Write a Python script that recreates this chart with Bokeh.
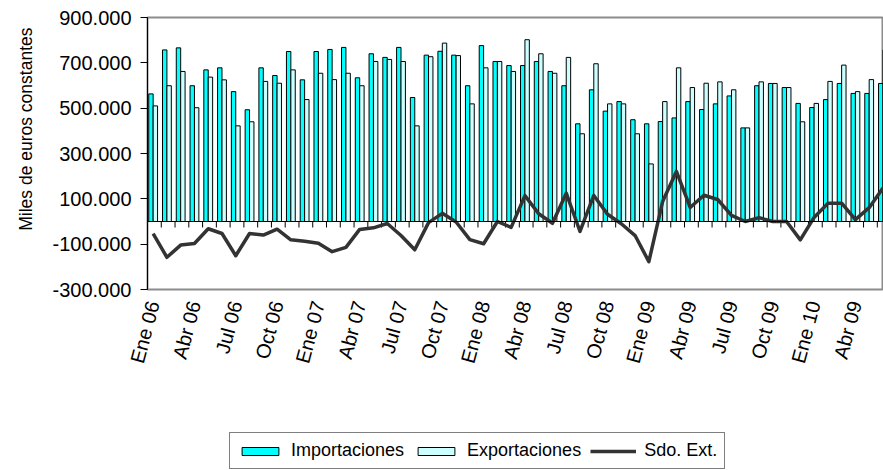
import math
from bokeh.plotting import figure
from bokeh.layouts import column
from bokeh.models import (Range1d, FixedTicker, Legend, LegendItem, Title, Span,
                          ColumnDataSource)
from bokeh.embed import file_html
from bokeh.resources import INLINE

# ---------------- data (miles de euros constantes) ----------------
months = list(range(54))  # Ene 06 ... Jun 10

importaciones = [563000, 757000, 766000, 599000, 669000, 678000, 573000, 493000, 678000,
                 644000, 750000, 625000, 750000, 759000, 768000, 634000, 740000, 724000,
                 768000, 547000, 734000, 751000, 734000, 599000, 776000, 706000, 688000,
                 688000, 706000, 662000, 599000, 431000, 581000, 487000, 529000, 449000,
                 431000, 441000, 457000, 529000, 494000, 519000, 554000, 413000, 599000,
                 609000, 591000, 521000, 503000, 538000, 609000, 565000, 565000, 609000]

exportaciones = [510000, 599000, 662000, 502000, 637000, 625000, 422000, 440000, 618000,
                 610000, 669000, 538000, 654000, 626000, 654000, 599000, 706000, 715000,
                 706000, 422000, 727000, 787000, 732000, 519000, 678000, 706000, 662000,
                 802000, 740000, 654000, 724000, 387000, 696000, 519000, 519000, 387000,
                 254000, 529000, 678000, 591000, 610000, 616000, 581000, 413000, 616000,
                 609000, 591000, 440000, 521000, 618000, 690000, 573000, 626000, 757000]

saldo = [-53000, -158000, -104000, -97000, -32000, -53000, -151000, -53000, -60000,
         -34000, -81000, -87000, -96000, -133000, -114000, -35000, -28000, -9000,
         -62000, -125000, -5000, 36000, -2000, -80000, -98000, 0, -26000,
         114000, 34000, -8000, 125000, -44000, 115000, 32000, -10000, -62000,
         -177000, 88000, 221000, 62000, 116000, 97000, 27000, 0, 17000,
         0, 0, -81000, 18000, 80000, 81000, 8000, 61000, 148000]

label_months = [0, 3, 6, 9, 12, 15, 18, 21, 24, 27, 30, 33, 36, 39, 42, 45, 48, 51]
label_text = ["Ene 06", "Abr 06", "Jul 06", "Oct 06", "Ene 07", "Abr 07", "Jul 07",
              "Oct 07", "Ene 08", "Abr 08", "Jul 08", "Oct 08", "Ene 09", "Abr 09",
              "Jul 09", "Oct 09", "Ene 10", "Abr 09"]

y_ticks = [-300000, -100000, 100000, 300000, 500000, 700000, 900000]
y_tick_labels = ["-300.000", "-100.000", "100.000", "300.000", "500.000", "700.000", "900.000"]

# ---------------- main figure ----------------
FONT = "Liberation Sans"
Y0, Y1 = -300000, 900000
FRAME_H = 272
IMP_COLOR, EXP_COLOR, SDO_COLOR = "#00FFFF", "#CCFFFF", "#333333"

p = figure(width=883, height=431,
           x_range=Range1d(-0.41, 53.04), y_range=Range1d(Y0, Y1),
           output_backend="svg", toolbar_location=None,
           min_border_left=147, min_border_right=0, min_border_top=17, min_border_bottom=142)
p.grid.visible = False
p.background_fill_color = "white"
p.border_fill_color = "white"
p.outline_line_color = "#8c8c8c"
p.outline_line_width = 2

src = ColumnDataSource(dict(
    x_imp=[m - 0.16 for m in months],
    x_exp=[m + 0.16 for m in months],
    x=months, imp=importaciones, exp=exportaciones, sdo=saldo))

p.vbar(x="x_imp", top="imp", bottom=0, width=0.32, source=src,
       fill_color=IMP_COLOR, line_color="black", line_width=1)
p.vbar(x="x_exp", top="exp", bottom=0, width=0.32, source=src,
       fill_color=EXP_COLOR, line_color="black", line_width=1)

# zero line with month tick marks (category axis crossing at 0)
p.add_layout(Span(location=0, dimension="width", line_color="black", line_width=1))
tick_len = 6 * (Y1 - Y0) / FRAME_H
bounds = [m + 0.59 for m in months[:-1]]
p.segment(x0=bounds, x1=bounds, y0=[0] * len(bounds), y1=[-tick_len] * len(bounds),
          line_color="black", line_width=1)

p.line(x="x", y="sdo", source=src, line_color=SDO_COLOR, line_width=3.5, line_join="round")

# y axis
yax = p.yaxis[0]
yax.ticker = FixedTicker(ticks=y_ticks)
yax.major_label_overrides = dict(zip(y_ticks, y_tick_labels))
yax.major_tick_out = 7
yax.major_tick_in = 0
yax.minor_tick_out = 0
yax.minor_tick_in = 0
yax.major_label_standoff = 9
yax.major_label_text_font = FONT
yax.major_label_text_font_size = "20px"
yax.major_label_text_color = "black"
yax.axis_line_color = "black"
yax.major_tick_line_color = "black"

# x axis (labels low)
xax = p.xaxis[0]
xax.ticker = FixedTicker(ticks=label_months)
xax.major_label_overrides = dict(zip(label_months, label_text))
xax.major_label_orientation = math.radians(75)
xax.axis_line_color = None
xax.major_tick_out = 0
xax.major_tick_in = 0
xax.minor_tick_out = 0
xax.minor_tick_in = 0
xax.major_label_standoff = 12
xax.major_label_text_font = FONT
xax.major_label_text_font_size = "20px"
xax.major_label_text_color = "black"

# y axis title
p.add_layout(Title(text="Miles de euros constantes", align="right", offset=10,
                   vertical_align="top", standoff=23, text_font=FONT,
                   text_font_size="17.5px", text_font_style="normal",
                   text_color="black"), "left")

# ---------------- legend strip ----------------
q = figure(width=883, height=39, x_range=Range1d(0, 1), y_range=Range1d(2e6, 3e6),
           output_backend="svg", toolbar_location=None,
           x_axis_location=None, y_axis_location=None,
           min_border_left=0, min_border_right=0, min_border_top=0, min_border_bottom=0)
q.grid.visible = False
q.outline_line_color = None
q.background_fill_color = "white"
q.border_fill_color = "white"
# same series, outside this strip's visible range: only their legend glyphs show
l_imp = q.vbar(x="x_imp", top="imp", bottom=0, width=0.32, source=src,
               fill_color=IMP_COLOR, line_color="black", line_width=1)
l_exp = q.vbar(x="x_exp", top="exp", bottom=0, width=0.32, source=src,
               fill_color=EXP_COLOR, line_color="black", line_width=1)
l_sdo = q.line(x="x", y="sdo", source=src, line_color=SDO_COLOR, line_width=3.5)

legend = Legend(items=[LegendItem(label="Importaciones", renderers=[l_imp]),
                       LegendItem(label="Exportaciones", renderers=[l_exp]),
                       LegendItem(label="Sdo. Ext.", renderers=[l_sdo])],
                orientation="horizontal", location=(82, 1),
                glyph_width=46, glyph_height=10, label_height=10,
                label_standoff=8, spacing=9, padding=7, margin=0,
                border_line_color="black", border_line_width=1,
                background_fill_color="white", background_fill_alpha=1,
                label_text_font=FONT, label_text_font_size="18px",
                label_text_color="black")
q.add_layout(legend)

open("out.html", "w").write(file_html(column(p, q, spacing=0), INLINE))
